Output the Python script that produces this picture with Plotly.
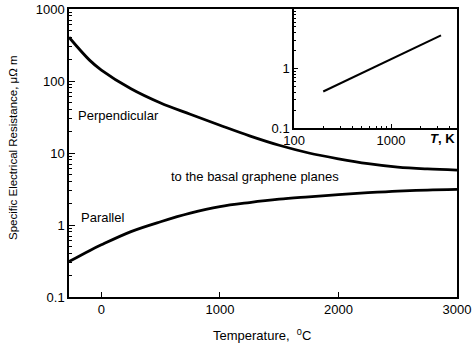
import plotly.graph_objects as go

# Main chart data (temperature in deg C, resistance in micro-ohm m)
temp_c = [-273, -100, 0, 250, 500, 750, 1000, 1250, 1500, 1750, 2000, 2250, 2500, 2750, 3000]
perpendicular = [405, 195, 142, 78, 49.5, 34.5, 24.3, 17.3, 12.8, 10.0, 8.3, 7.1, 6.35, 6.0, 5.8]
parallel = [0.31, 0.44, 0.53, 0.81, 1.11, 1.46, 1.80, 2.05, 2.28, 2.46, 2.64, 2.81, 2.96, 3.06, 3.12]

# Inset data (temperature in K)
inset_temp_k = [200, 3273]
inset_ratio = [0.41, 3.6]

main_y_ticks = [0.1, 1, 10, 100, 1000]
main_x_ticks = [0, 1000, 2000, 3000]
inset_x_ticks = [100, 1000]
inset_y_ticks = [0.1, 1]

FONT = "Liberation Sans, Arial, Helvetica, sans-serif"

fig = go.Figure()
fig.add_trace(go.Scatter(x=temp_c, y=perpendicular, mode="lines", line=dict(color="black", width=2.8, shape="spline"),
                         xaxis="x", yaxis="y", showlegend=False))
fig.add_trace(go.Scatter(x=temp_c, y=parallel, mode="lines", line=dict(color="black", width=2.8, shape="spline"),
                         xaxis="x", yaxis="y", showlegend=False))
fig.add_trace(go.Scatter(x=inset_temp_k, y=inset_ratio, mode="lines", line=dict(color="black", width=2),
                         xaxis="x2", yaxis="y2", showlegend=False))

axis_common = dict(showline=True, linecolor="black", linewidth=1.5, mirror=True, showgrid=False, zeroline=False,
                   automargin=False, ticks="inside", tickcolor="black",
                   tickfont=dict(family=FONT, size=13, color="black"))

fig.update_layout(
    width=473, height=347,
    margin=dict(l=69, r=16, t=9, b=50, autoexpand=False),
    paper_bgcolor="white", plot_bgcolor="white",
    font=dict(family=FONT, size=13, color="black"),
    xaxis=dict(domain=[0, 1], range=[-273, 3000], tickmode="array", tickvals=main_x_ticks, ticklen=5,
               **axis_common),
    yaxis=dict(domain=[0, 1], type="log", range=[-1, 3], tickmode="array", tickvals=main_y_ticks,
               ticktext=[str(v) for v in main_y_ticks], ticklen=6,
               minor=dict(ticks="inside", ticklen=3, dtick="D1", tickcolor="black", showgrid=False),
               **axis_common),
    xaxis2=dict(domain=[0.58, 1], anchor="y2", type="log", range=[2, 3.68], tickmode="array",
                tickvals=inset_x_ticks, ticktext=["100", "1000"], ticklen=4,
                minor=dict(ticks="inside", ticklen=2, dtick="D1", tickcolor="black", showgrid=False),
                **axis_common),
    yaxis2=dict(domain=[0.587, 1], anchor="x2", type="log", range=[-1, 1], tickmode="array",
                tickvals=inset_y_ticks, ticktext=["0.1", "1"], ticklen=4,
                minor=dict(ticks="inside", ticklen=2, dtick="D1", tickcolor="black", showgrid=False),
                **axis_common),
)

fig.add_annotation(text="Perpendicular", xref="x", yref="paper", x=-210, y=(297 - 115) / 288,
                   xanchor="left", yanchor="middle", showarrow=False, font=dict(family=FONT, size=13))
fig.add_annotation(text="Parallel", xref="x", yref="paper", x=-190, y=(297 - 217) / 288,
                   xanchor="left", yanchor="middle", showarrow=False, font=dict(family=FONT, size=13))
fig.add_annotation(text="to the basal graphene planes", xref="paper", yref="paper", x=(255 - 69) / 388,
                   y=(297 - 177) / 288, xanchor="center", yanchor="middle", showarrow=False,
                   font=dict(family=FONT, size=13))
fig.add_annotation(text="<b><i>T</i>, K</b>", xref="paper", yref="paper", x=1.0, y=(297 - 138) / 288,
                   xanchor="right", yanchor="middle", showarrow=False, font=dict(family=FONT, size=13))
fig.add_annotation(text="Specific Electrical Resistance, \u03bc\u03a9 m", xref="paper", yref="paper",
                   x=(13 - 69) / 388, y=(297 - 148) / 288, textangle=-90, xanchor="center", yanchor="middle",
                   showarrow=False, font=dict(family=FONT, size=11.5))
fig.add_annotation(text="Temperature,  <sup>0</sup>C", xref="paper", yref="paper",
                   x=(262 - 69) / 388, y=(297 - 335) / 288, xanchor="center", yanchor="middle",
                   showarrow=False, font=dict(family=FONT, size=13))

fig.write_html("out.html", config={"displayModeBar": False},
               post_script="document.body.style.margin='0';")
